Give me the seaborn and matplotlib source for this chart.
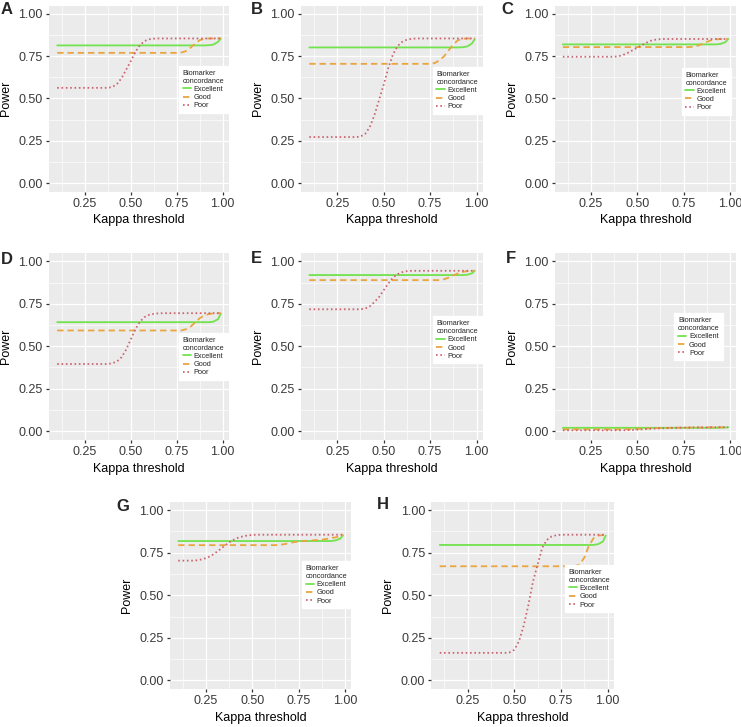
import numpy as np
import matplotlib
matplotlib.use("Agg")
import matplotlib.pyplot as plt
import seaborn as sns

# kappa threshold grid shared by every curve
kappa = list(np.round(np.arange(0.1, 0.976, 0.025), 3)) + [0.99]

# power curves (Excellent / Good / Poor concordance)
a_exc = [0.814] * 33 + [0.815, 0.819, 0.835, 0.855]
a_good = [0.770] * 27 + [0.772, 0.780, 0.800, 0.825, 0.845, 0.853, 0.855, 0.855, 0.855, 0.855]
a_poor = [0.563] * 12 + [0.568, 0.585, 0.62, 0.67, 0.72, 0.775, 0.815, 0.84, 0.85, 0.854] + [0.855] * 15

b_exc = [0.802] * 33 + [0.803, 0.808, 0.825, 0.852]
b_good = [0.705] * 27 + [0.71, 0.725, 0.75, 0.785, 0.82, 0.845, 0.853, 0.855, 0.855, 0.855]
b_poor = [0.272] * 11 + [0.275, 0.29, 0.33, 0.40, 0.49, 0.58, 0.68, 0.76, 0.81, 0.835, 0.848, 0.853] + [0.855] * 14

c_exc = [0.82] * 34 + [0.823, 0.833, 0.852]
c_good = [0.804] * 28 + [0.806, 0.812, 0.822, 0.835, 0.845, 0.85] + [0.852] * 3
c_poor = [0.747] * 12 + [0.75, 0.758, 0.77, 0.785, 0.80, 0.815, 0.83, 0.842, 0.848, 0.851] + [0.852] * 15

d_exc = [0.642] * 34 + [0.645, 0.66, 0.693]
d_good = [0.593] * 28 + [0.60, 0.615, 0.64, 0.665, 0.682, 0.69, 0.694, 0.695, 0.695]
d_poor = [0.395] * 12 + [0.40, 0.41, 0.435, 0.48, 0.54, 0.60, 0.645, 0.672, 0.685, 0.691, 0.694] + [0.695] * 14

e_exc = [0.92] * 34 + [0.922, 0.93, 0.945]
e_good = [0.89] * 29 + [0.895, 0.905, 0.918, 0.93, 0.938, 0.943, 0.945, 0.945]
e_poor = [0.718] * 12 + [0.722, 0.735, 0.76, 0.79, 0.83, 0.87, 0.905, 0.925, 0.937, 0.943] + [0.945] * 15

f_exc = [0.019] * 34 + [0.02, 0.021, 0.022]
f_good = [0.010] * 14 + [0.011, 0.012, 0.013, 0.014, 0.015, 0.016, 0.017, 0.018, 0.018, 0.019, 0.019, 0.02,
                         0.02, 0.02, 0.021, 0.021, 0.021, 0.021, 0.022, 0.022, 0.022, 0.022, 0.022]
f_poor = [0.004] * 14 + [0.005, 0.006, 0.008, 0.010, 0.012, 0.014, 0.015, 0.016, 0.017, 0.018, 0.019, 0.019,
                         0.02, 0.02, 0.021, 0.021, 0.021, 0.021, 0.022, 0.022, 0.022, 0.022, 0.022]

g_exc = [0.818] * 34 + [0.822, 0.832, 0.852]
g_good = [0.794] * 22 + [0.796, 0.80, 0.806, 0.812, 0.815, 0.818, 0.82, 0.822, 0.824, 0.826, 0.83, 0.836,
                         0.84, 0.846, 0.853]
g_poor = [0.703] * 4 + [0.705, 0.71, 0.718, 0.73, 0.748, 0.768, 0.79, 0.81, 0.826, 0.838, 0.846, 0.851,
                        0.854] + [0.855] * 20

h_exc = [0.795] * 34 + [0.80, 0.815, 0.85]
h_good = [0.67] * 29 + [0.672, 0.68, 0.72, 0.79, 0.835, 0.85, 0.853, 0.855]
h_poor = [0.162] * 15 + [0.165, 0.18, 0.23, 0.32, 0.44, 0.58, 0.68, 0.78, 0.825, 0.845, 0.852] + [0.855] * 11

panel_letters = ["A", "B", "C", "D", "E", "F", "G", "H"]
concordance = ["Excellent", "Good", "Poor"]
x_ticks = [0.25, 0.50, 0.75, 1.00]
y_ticks = [0.00, 0.25, 0.50, 0.75, 1.00]

sns.set_theme(style="darkgrid", rc={
    "axes.facecolor": "#EBEBEB",
    "grid.color": "white",
    "axes.edgecolor": "#EBEBEB",
})
plt.rcParams["font.family"] = ["Liberation Sans", "DejaVu Sans"]

colors = {"Excellent": "#72E24E", "Good": "#E9A53F", "Poor": "#CC6470"}
styles = {"Excellent": "-", "Good": (0, (3.5, 2.2)), "Poor": (0, (0.9, 1.5))}

fig = plt.figure(figsize=(7.41, 7.27), dpi=100)
W, H = 741, 727

# panel boxes in pixels: left, right, top, bottom
boxes = {
    "A": (49, 229, 5.5, 191.5), "B": (301, 483, 5.5, 191.5), "C": (554.6, 736.4, 5.5, 191.5),
    "D": (49, 229, 253, 439.5), "E": (301, 483, 253, 439.5), "F": (554.6, 736.4, 253, 439.5),
    "G": (170, 351.3, 501.5, 689), "H": (431.4, 614, 501.5, 689),
}
letter_pos = {"A": (1, 2), "B": (251, 2), "C": (501, 2), "D": (1, 252), "E": (251, 251),
              "F": (506, 251), "G": (116, 499), "H": (377, 497)}
legend_pos = {"A": (0.994, 0.548), "B": (0.993, 0.543), "C": (0.969, 0.538), "D": (0.995, 0.445),
              "E": (0.993, 0.534), "F": (0.928, 0.55), "G": (0.998, 0.556), "H": (1.0, 0.535)}

series = {
    "A": (a_exc, a_good, a_poor), "B": (b_exc, b_good, b_poor), "C": (c_exc, c_good, c_poor),
    "D": (d_exc, d_good, d_poor), "E": (e_exc, e_good, e_poor), "F": (f_exc, f_good, f_poor),
    "G": (g_exc, g_good, g_poor), "H": (h_exc, h_good, h_poor),
}

for key in panel_letters:
    l, r, t, b = boxes[key]
    ax = fig.add_axes([l / W, 1 - b / H, (r - l) / W, (b - t) / H])
    for name, vals in zip(concordance, series[key]):
        sns.lineplot(x=kappa, y=vals, ax=ax, color=colors[name], linestyle=styles[name],
                     lw=1.3, label=name)
    ax.set_xlim(0.0555, 1.0345)
    ax.set_ylim(-0.05, 1.05)
    ax.set_xticks(x_ticks)
    ax.set_xticklabels([f"{v:.2f}" for v in x_ticks])
    ax.set_yticks(y_ticks)
    ax.set_yticklabels([f"{v:.2f}" for v in y_ticks])
    ax.set_xticks([0.125, 0.375, 0.625, 0.875], minor=True)
    ax.set_yticks([0.125, 0.375, 0.625, 0.875], minor=True)
    ax.grid(which="major", color="white", lw=0.9)
    ax.grid(which="minor", color="white", lw=0.45)
    ax.tick_params(which="major", length=2.2, width=0.9, color="#333333", pad=2.2,
                   labelsize=9, labelcolor="#3A3A3A", bottom=True, left=True)
    ax.tick_params(which="minor", length=0)
    for s in ax.spines.values():
        s.set_visible(False)
    ax.set_xlabel("Kappa threshold", fontsize=9, color="black")
    ax.set_ylabel("Power", fontsize=9, color="black")
    ax.xaxis.set_label_coords(0.5, -29 / (b - t))
    ax.xaxis.label.set_va("center")
    ax.yaxis.set_label_coords(-43 / (r - l), 0.5)
    ax.yaxis.label.set_va("center")

    leg = ax.legend(title="Biomarker\nconcordance", loc="center right",
                    bbox_to_anchor=legend_pos[key], borderaxespad=0, fontsize=5.3,
                    title_fontsize=5.3, frameon=True, fancybox=False, handlelength=1.1,
                    handletextpad=0.4, labelspacing=0.15, borderpad=0.5)
    leg.get_frame().set_facecolor("white")
    leg.get_frame().set_edgecolor("white")
    leg.get_frame().set_alpha(1)
    leg._legend_box.align = "left"

    lx, ly = letter_pos[key]
    fig.text(lx / W, 1 - ly / H, key, fontsize=12, fontweight="bold", ha="left", va="top")

fig.savefig("out.png", dpi=100)
